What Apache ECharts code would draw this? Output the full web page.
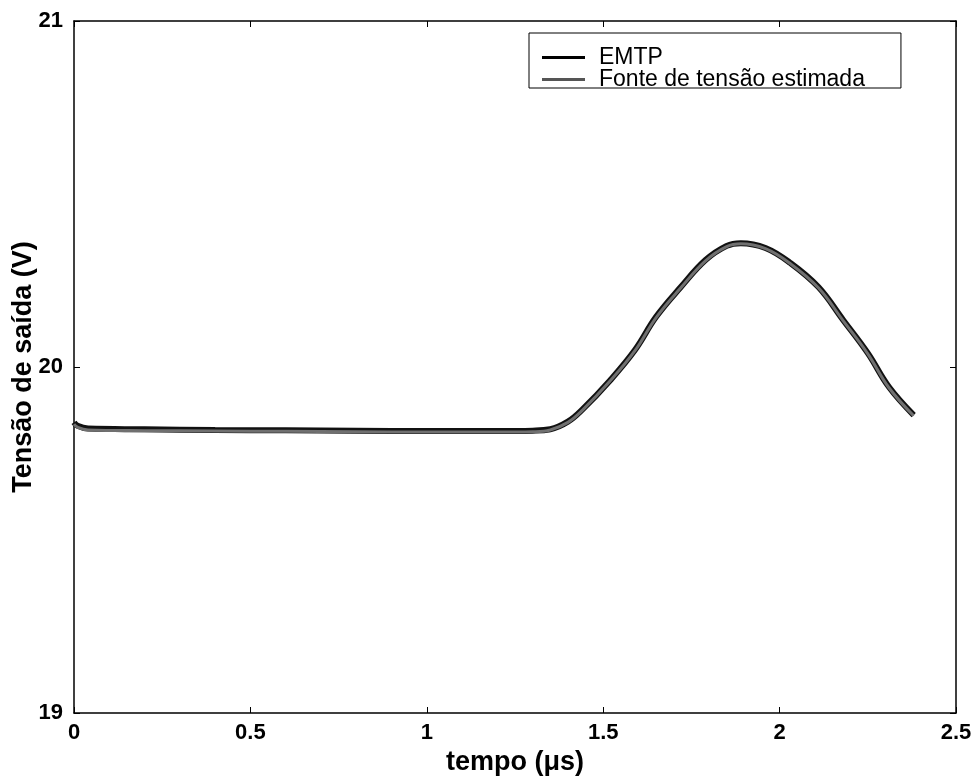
<!DOCTYPE html>
<html>
<head>
<meta charset="utf-8">
<script src="https://cdn.jsdelivr.net/npm/echarts@6/dist/echarts.min.js"></script>
<style>
html,body{margin:0;padding:0;background:#fff;}
#chart{width:976px;height:781px;}
</style>
</head>
<body>
<div id="chart"></div>
<script>
const timeUs = [0, 0.01, 0.04, 0.2, 0.4, 0.6, 0.8, 1.0, 1.2, 1.3, 1.35, 1.4, 1.44, 1.52, 1.59, 1.65, 1.72, 1.79, 1.85, 1.89, 1.96, 2.03, 2.11, 2.18, 2.25, 2.31, 2.38];
const emtpV = [19.84, 19.83, 19.822, 19.82, 19.818, 19.817, 19.816, 19.815, 19.815, 19.816, 19.82, 19.842, 19.876, 19.962, 20.049, 20.145, 20.231, 20.309, 20.35, 20.358, 20.344, 20.301, 20.231, 20.136, 20.04, 19.942, 19.861];
const estimadaV = [19.835, 19.826, 19.818, 19.816, 19.815, 19.814, 19.813, 19.812, 19.812, 19.813, 19.818, 19.84, 19.874, 19.96, 20.047, 20.143, 20.229, 20.307, 20.348, 20.356, 20.342, 20.299, 20.229, 20.134, 20.038, 19.94, 19.859];
const xTicks = [0, 0.5, 1, 1.5, 2, 2.5];
const yTicks = [19, 20, 21];

const chart = echarts.init(document.getElementById('chart'), null, {renderer: 'canvas'});
const font = 'Arial, "Liberation Sans", sans-serif';
const pairs = (xs, ys) => xs.map((x, i) => [x, ys[i]]);
const tickStyle = {show: true, inside: true, length: 6, lineStyle: {color: '#000', width: 1}};
chart.setOption({
  animation: false,
  backgroundColor: '#fff',
  grid: {left: 74, top: 21, right: 20, bottom: 68, containLabel: false, outerBoundsMode: 'none'},
  legend: {
    left: 529, top: 33, orient: 'vertical',
    padding: [13, 36, -3, 13], itemGap: -1, itemWidth: 43, itemHeight: 14,
    borderColor: '#000', borderWidth: 1, backgroundColor: '#fff',
    textStyle: {fontFamily: font, fontSize: 23, color: '#000', padding: [0, 0, 0, 9]},
    data: [
      {name: 'EMTP', icon: 'path://M0,6 L43,6 L43,9 L0,9 Z', itemStyle: {color: '#000'}},
      {name: 'Fonte de tensão estimada', icon: 'path://M0,6 L43,6 L43,9 L0,9 Z', itemStyle: {color: '#555'}}
    ]
  },
  xAxis: [{
    type: 'value', min: 0, max: 2.5, interval: 0.5, position: 'bottom',
    name: 'tempo (\u03bcs)', nameLocation: 'middle', nameGap: 34,
    nameTextStyle: {fontFamily: font, fontSize: 27, fontWeight: 'bold', color: '#000'},
    axisLine: {show: true, onZero: false, lineStyle: {color: '#000', width: 1.5}},
    axisTick: tickStyle,
    axisLabel: {margin: 9, fontFamily: font, fontSize: 22, fontWeight: 'bold', color: '#000',
      formatter: v => xTicks.includes(v) ? String(v) : ''},
    splitLine: {show: false}
  }, {
    type: 'value', min: 0, max: 2.5, interval: 0.5, position: 'top',
    axisLine: {show: true, onZero: false, lineStyle: {color: '#000', width: 1.5}},
    axisTick: tickStyle, axisLabel: {show: false}, splitLine: {show: false}
  }],
  yAxis: [{
    type: 'value', min: 19, max: 21, interval: 1, position: 'left',
    name: 'Tensão de saída (V)', nameLocation: 'middle', nameGap: 37, nameMoveOverlap: false,
    nameTextStyle: {fontFamily: font, fontSize: 27, fontWeight: 'bold', color: '#000'},
    axisLine: {show: true, onZero: false, lineStyle: {color: '#000', width: 1.5}},
    axisTick: tickStyle,
    axisLabel: {margin: 11, fontFamily: font, fontSize: 22, fontWeight: 'bold', color: '#000',
      formatter: v => yTicks.includes(v) ? String(v) : ''},
    splitLine: {show: false}
  }, {
    type: 'value', min: 19, max: 21, interval: 1, position: 'right',
    axisLine: {show: true, onZero: false, lineStyle: {color: '#000', width: 1.5}},
    axisTick: tickStyle, axisLabel: {show: false}, splitLine: {show: false}
  }],
  series: [{
    name: 'EMTP', type: 'line', xAxisIndex: 0, yAxisIndex: 0,
    data: pairs(timeUs, emtpV), showSymbol: false, smooth: 0.4,
    lineStyle: {color: '#111', width: 6}, itemStyle: {color: '#000'}
  }, {
    name: 'Fonte de tensão estimada', type: 'line', xAxisIndex: 0, yAxisIndex: 0,
    data: pairs(timeUs, estimadaV), showSymbol: false, smooth: 0.4,
    lineStyle: {color: '#707070', width: 3}, itemStyle: {color: '#555'}
  }]
});
</script>
</body>
</html>
